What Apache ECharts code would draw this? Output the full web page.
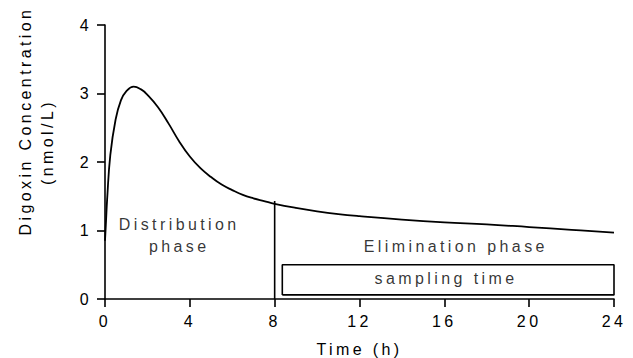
<!DOCTYPE html>
<html>
<head>
<meta charset="utf-8">
<script src="https://cdn.jsdelivr.net/npm/echarts@6/dist/echarts.min.js"></script>
<style>
  html, body { margin: 0; padding: 0; background: #fff; }
  #chart { width: 633px; height: 358px; }
  /* the original figure has widely spaced lettering */
  #chart text { letter-spacing: 3.4px; }
</style>
</head>
<body>
<div id="chart"></div>
<script>
// concentration curve
const timeH = [0, 0.05, 0.1, 0.25, 0.5, 0.75, 1.0, 1.35, 1.7, 2.0, 2.5, 3.0, 3.5, 4.0, 4.5, 5.0, 5.5, 6.0, 6.5, 7.0, 7.5, 8.0, 9.0, 10, 11, 12, 14, 16, 18, 20, 22, 24];
const concentration = [0.85, 1.15, 1.45, 2.1, 2.62, 2.9, 3.03, 3.1, 3.06, 2.98, 2.8, 2.56, 2.3, 2.08, 1.91, 1.78, 1.67, 1.59, 1.52, 1.47, 1.43, 1.39, 1.33, 1.28, 1.24, 1.21, 1.16, 1.12, 1.09, 1.05, 1.01, 0.97];

// divider between the two phases
const dividerX = [8, 8];
const dividerY = [0, 1.43];

// "sampling time" box corners
const boxX = [8.36, 24, 24, 8.36, 8.36];
const boxY = [0.06, 0.06, 0.5, 0.5, 0.06];

// annotation texts and where they sit (data units)
const noteText = ['Distribution\nphase', 'Elimination phase', 'sampling time'];
const noteX = [3.5, 16.54, 16.08];
const noteY = [0.93, 0.77, 0.3];

const xTicks = { min: 0, max: 24, interval: 4 };
const yTicks = { min: 0, max: 4, interval: 1 };

const font = "'Liberation Sans', Arial, sans-serif";
const black = '#000';

const chart = echarts.init(document.getElementById('chart'), null, { renderer: 'svg' });

const zip = (xs, ys) => xs.map((x, i) => [x, ys[i]]);

const option = {
  animation: false,
  backgroundColor: '#fff',
  textStyle: { fontFamily: font, color: black },
  grid: { left: 105, right: 19, top: 25, bottom: 59, containLabel: false, outerBoundsMode: 'none' },
  xAxis: {
    type: 'value',
    min: xTicks.min,
    max: xTicks.max,
    interval: xTicks.interval,
    name: 'Time (h)',
    nameLocation: 'middle',
    nameGap: 42,
    nameTextStyle: { fontSize: 16, color: black, fontFamily: font },
    axisLine: { show: true, lineStyle: { color: black, width: 1.6 } },
    axisTick: { show: true, length: 8, lineStyle: { color: black, width: 1.6 } },
    axisLabel: { fontSize: 16, color: black, margin: 14, fontFamily: font },
    splitLine: { show: false }
  },
  yAxis: {
    type: 'value',
    min: yTicks.min,
    max: yTicks.max,
    interval: yTicks.interval,
    axisLine: { show: true, lineStyle: { color: black, width: 1.6 } },
    axisTick: { show: true, length: 8, lineStyle: { color: black, width: 1.6 } },
    axisLabel: { fontSize: 16, color: black, margin: 13, fontFamily: font },
    splitLine: { show: false }
  },
  graphic: [
    {
      type: 'text',
      x: 25, y: 121,
      rotation: Math.PI / 2,
      style: {
        text: 'Digoxin Concentration',
        font: '16px ' + font,
        fill: black,
        align: 'center',
        verticalAlign: 'middle'
      }
    },
    {
      type: 'text',
      x: 47, y: 142,
      rotation: Math.PI / 2,
      style: {
        text: '(nmol/L)',
        font: '16px ' + font,
        fill: black,
        align: 'center',
        verticalAlign: 'middle'
      }
    }
  ],
  series: [
    {
      name: 'curve',
      type: 'line',
      data: zip(timeH, concentration),
      smooth: 0.45,
      symbol: 'none',
      silent: true,
      lineStyle: { color: black, width: 1.8 }
    },
    {
      name: 'divider',
      type: 'line',
      data: zip(dividerX, dividerY),
      symbol: 'none',
      silent: true,
      lineStyle: { color: black, width: 1.6 }
    },
    {
      name: 'sampling',
      type: 'line',
      data: zip(boxX, boxY),
      symbol: 'none',
      silent: true,
      lineStyle: { color: black, width: 1.6 }
    },
    {
      name: 'notes',
      type: 'scatter',
      symbolSize: 0,
      silent: true,
      data: noteText.map((t, i) => ({ value: [noteX[i], noteY[i]], name: t })),
      label: {
        show: true,
        position: 'inside',
        formatter: p => p.name,
        fontSize: 16,
        lineHeight: 22,
        color: black,
        fontFamily: font,
        align: 'center',
        verticalAlign: 'middle'
      }
    }
  ]
};

chart.setOption(option);
</script>
</body>
</html>
